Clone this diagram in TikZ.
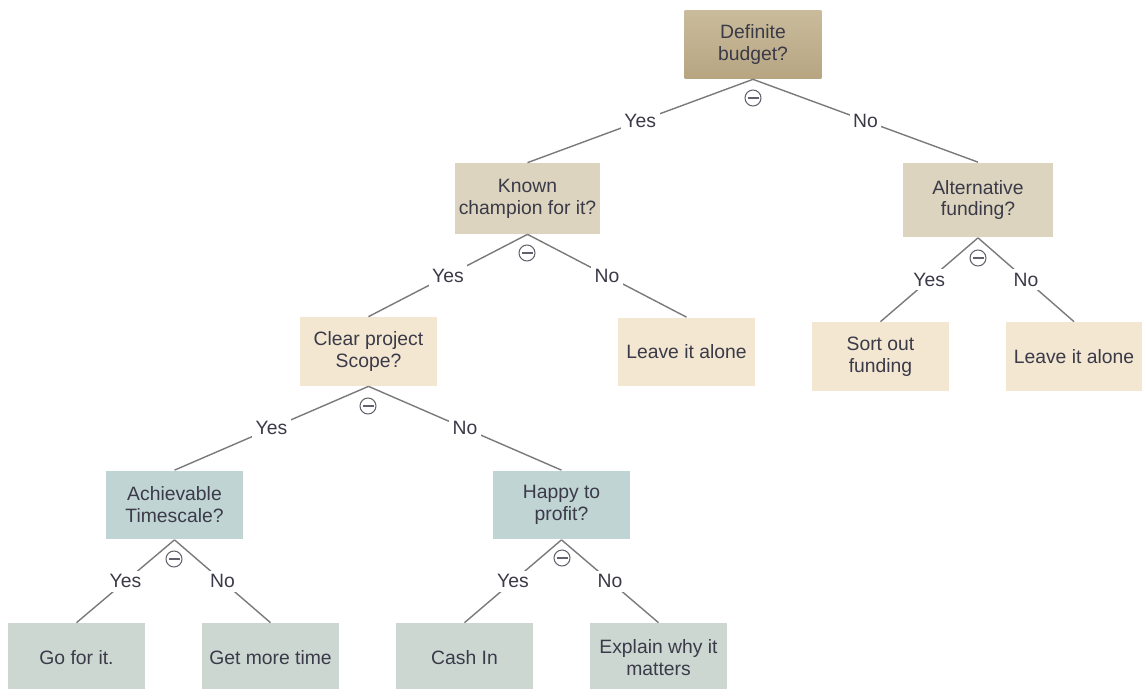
\documentclass[tikz,border=0pt]{standalone}
\usepackage{fontspec}
\setmainfont{Liberation Sans}
\usetikzlibrary{positioning}
\definecolor{budgettop}{HTML}{C9BB9C}
\definecolor{budgetbot}{HTML}{B7A581}
\definecolor{tanbox}{HTML}{DCD4BE}
\definecolor{creambox}{HTML}{F3E7D2}
\definecolor{bluebox}{HTML}{C1D4D4}
\definecolor{leafbox}{HTML}{CCD7D1}
\definecolor{wire}{HTML}{7A7A7A}
\definecolor{ink}{HTML}{3A3A48}

\begin{document}
\begin{tikzpicture}[
        x=0.02cm, y=-0.02cm,
        question/.style={rectangle, minimum width=2.74cm, minimum height=1.38cm,
            align=center, inner sep=2pt, text=ink,
            font=\fontsize{11}{12.5}\selectfont},
        decide/.style={question, fill=tanbox},
        scope box/.style={question, fill=creambox},
        check/.style={question, fill=bluebox},
        leaf/.style={question, fill=leafbox},
        branch/.style={draw=wire, line width=0.8pt},
        answer/.style={fill=white, inner sep=2pt, text=ink,
            font=\fontsize{11}{12.5}\selectfont},
        toggle/.style={circle, draw=ink!80, fill=white, line width=0.6pt,
            minimum size=3.2mm, inner sep=0pt,
            path picture={\draw[ink!80, line width=1.3pt]
                ([xshift=-1.1mm]path picture bounding box.center) --
                ([xshift=1.1mm]path picture bounding box.center);}},
    ]
        \useasboundingbox (0,0) rectangle (1143,689);

        % questions
        \node[question, top color=budgettop, bottom color=budgetbot] (budget) at (753, 44.5) {Definite\\budget?};
        \node[decide, minimum width=2.86cm, minimum height=1.42cm] (champ) at (527.5, 198.5) {Known\\champion for it?};
        \node[decide, minimum width=3.0cm, minimum height=1.5cm] (altfund) at (978, 200) {Alternative\\funding?};
        \node[scope box] (scope) at (368.5, 351.5) {Clear project\\Scope?};
        \node[scope box] (leave1) at (686.5, 352) {Leave it alone};
        \node[scope box] (sortout) at (880.5, 356.5) {Sort out\\funding};
        \node[scope box] (leave2) at (1074, 356.5) {Leave it alone};
        \node[check] (time) at (174.5, 505) {Achievable\\Timescale?};
        \node[check] (profit) at (561.5, 505) {Happy to\\profit?};

        % outcomes
        \node[leaf] (go) at (76.5, 657.5) {Go for it.};
        \node[leaf] (more) at (270.5, 657.5) {Get more time};
        \node[leaf] (cash) at (464.5, 657.5) {Cash In};
        \node[leaf] (explain) at (658.5, 657.5) {Explain why it\\matters};

        % branches
        \draw[branch] (budget.south) -- node[answer] {Yes} (champ.north);
        \draw[branch] (budget.south) -- node[answer] {No} (altfund.north);
        \draw[branch] (champ.south) -- node[answer] {Yes} (scope.north);
        \draw[branch] (champ.south) -- node[answer] {No} (leave1.north);
        \draw[branch] (altfund.south) -- node[answer] {Yes} (sortout.north);
        \draw[branch] (altfund.south) -- node[answer] {No} (leave2.north);
        \draw[branch] (scope.south) -- node[answer] {Yes} (time.north);
        \draw[branch] (scope.south) -- node[answer] {No} (profit.north);
        \draw[branch] (time.south) -- node[answer] {Yes} (go.north);
        \draw[branch] (time.south) -- node[answer] {No} (more.north);
        \draw[branch] (profit.south) -- node[answer] {Yes} (cash.north);
        \draw[branch] (profit.south) -- node[answer] {No} (explain.north);

        % collapse markers
        \node[toggle] (t1) at (753, 98) {};
        \node[toggle] (t2) at (527, 253) {};
        \node[toggle] (t3) at (978, 258) {};
        \node[toggle] (t4) at (368, 406) {};
        \node[toggle] (t5) at (174, 559) {};
        \node[toggle] (t6) at (562, 558) {};
    \end{tikzpicture}
\end{document}
